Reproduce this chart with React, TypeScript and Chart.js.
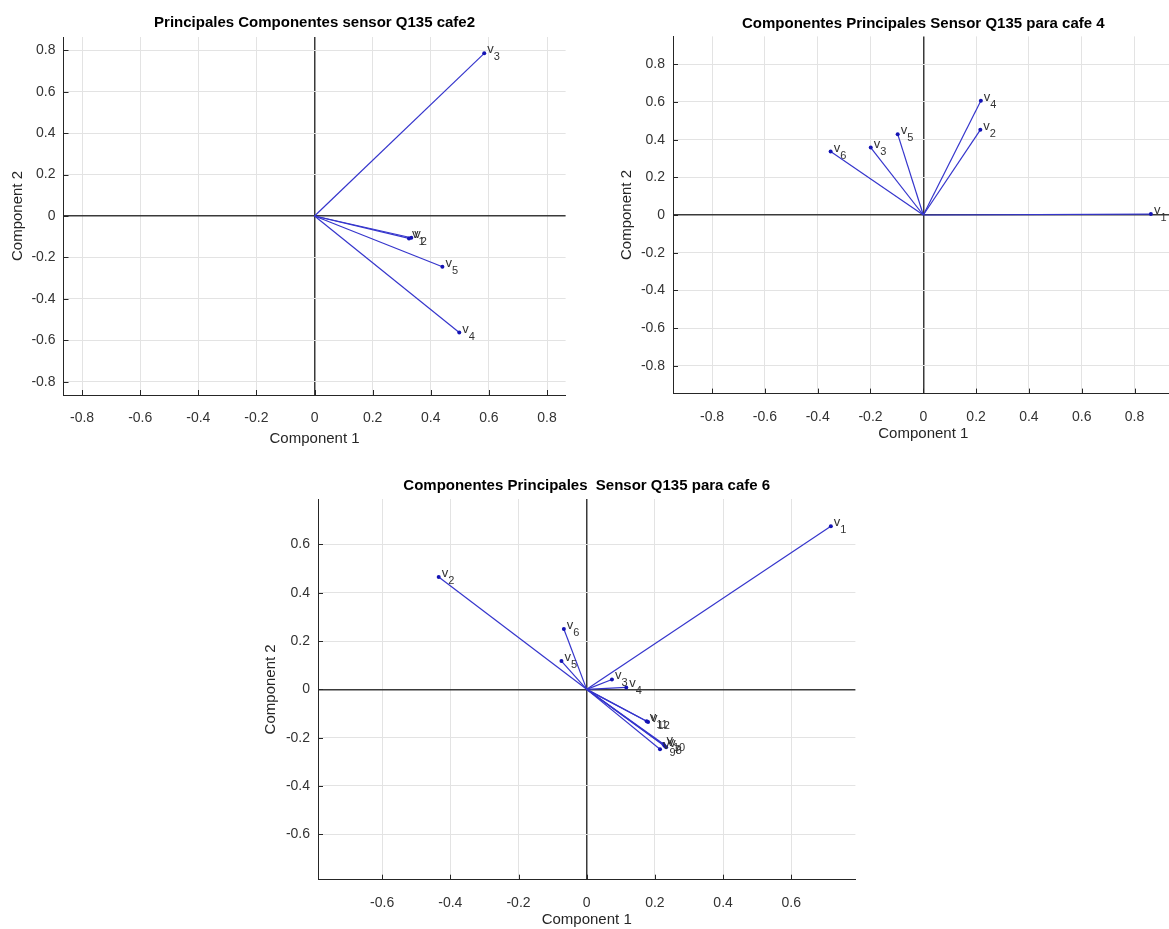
import React, { useEffect, useRef } from "react";
import { Chart, registerables } from "chart.js";

Chart.register(...registerables);

const FONT = '"Liberation Sans", Arial, Helvetica, sans-serif';
Chart.defaults.font.family = FONT;

// ---------- Panel 1: cafe2 ----------
const p1Title = "Principales Componentes sensor Q135 cafe2";
const p1Vars = ["1", "2", "3", "4", "5"];
const p1X = [0.325, 0.333, 0.584, 0.498, 0.44];
const p1Y = [-0.108, -0.105, 0.785, -0.5625, -0.245];
const p1Ticks = [-0.8, -0.6, -0.4, -0.2, 0, 0.2, 0.4, 0.6, 0.8];
const p1Limit = 0.864;

// ---------- Panel 2: cafe 4 ----------
const p2Title = "Componentes Principales Sensor Q135 para cafe 4";
const p2Vars = ["1", "2", "3", "4", "5", "6"];
const p2X = [0.862, 0.216, -0.199, 0.218, -0.097, -0.351];
const p2Y = [0.005, 0.452, 0.358, 0.606, 0.429, 0.337];
const p2Ticks = [-0.8, -0.6, -0.4, -0.2, 0, 0.2, 0.4, 0.6, 0.8];
const p2Limit = 0.948;

// ---------- Panel 3: cafe 6 ----------
const p3Title = "Componentes Principales  Sensor Q135 para cafe 6";
const p3Vars = ["1", "2", "3", "4", "5", "6", "7", "8", "9", "10", "11", "12"];
const p3X = [0.716, -0.434, 0.074, 0.116, -0.074, -0.067, 0.228, 0.233, 0.215, 0.225, 0.176, 0.18];
const p3Y = [0.675, 0.465, 0.041, 0.008, 0.117, 0.25, -0.233, -0.24, -0.248, -0.226, -0.132, -0.135];
const p3Ticks = [-0.6, -0.4, -0.2, 0, 0.2, 0.4, 0.6];
const p3Limit = 0.788;

const xAxisTitle = "Component 1";
const yAxisTitle = "Component 2";

const LINE_COLOR = "#3535cc";
const POINT_COLOR = "#1414b4";
const AXIS_COLOR = "#262626";
const GRID_COLOR = "#e3e3e3";

type Geom = {
  cx: number; cy: number; cw: number; ch: number;
  L: number; T: number; R: number; B: number;
  xTitleY: number; yTitleX: number; titleGap: number;
};

type PanelProps = {
  title: string;
  vars: string[];
  xs: number[];
  ys: number[];
  ticks: number[];
  limit: number;
  geom: Geom;
};

function fmt(v: number) {
  const n = Math.round(v * 10) / 10;
  return n === 0 ? "0" : String(n);
}

function BiplotPanel({ title, vars, xs, ys, ticks, limit, geom }: PanelProps) {
  const ref = useRef<HTMLCanvasElement>(null);

  useEffect(() => {
    const g = geom;
    const l = g.L - g.cx, t = g.T - g.cy, r = g.R - g.cx, b = g.B - g.cy;
    const titleHalf = 15 * 1.2 / 2;
    const pl = g.yTitleX - g.cx - titleHalf;
    const pb = g.ch - (g.xTitleY - g.cy + titleHalf);
    const yWidth = l - pl;
    const xHeight = (g.ch - pb) - b;

    const datasets = xs.map((x, i) => ({
      label: "v" + vars[i],
      data: [{ x: 0, y: 0 }, { x, y: ys[i] }],
      showLine: true,
      borderColor: LINE_COLOR,
      borderWidth: 1.2,
      pointRadius: [0, 2],
      pointBackgroundColor: POINT_COLOR,
      pointBorderWidth: 0,
      fill: false,
    }));

    const decor = {
      id: "biplotDecor",
      afterDatasetsDraw(chart: any) {
        const ctx = chart.ctx;
        const ca = chart.chartArea;
        const xs_ = chart.scales.x;
        const ys_ = chart.scales.y;
        ctx.save();
        // inward tick marks
        ctx.strokeStyle = AXIS_COLOR;
        ctx.lineWidth = 1;
        ctx.beginPath();
        ticks.forEach((v) => {
          const px = Math.round(xs_.getPixelForValue(v)) + 0.5;
          ctx.moveTo(px, ca.bottom);
          ctx.lineTo(px, ca.bottom - 5);
          const py = Math.round(ys_.getPixelForValue(v)) + 0.5;
          ctx.moveTo(ca.left, py);
          ctx.lineTo(ca.left + 5, py);
        });
        ctx.stroke();
        // variable labels
        ctx.fillStyle = "#333";
        ctx.textAlign = "left";
        ctx.textBaseline = "alphabetic";
        chart.data.datasets.forEach((_: any, i: number) => {
          const pt = chart.getDatasetMeta(i).data[1];
          const x0 = pt.x + 3;
          const y0 = pt.y;
          ctx.font = "13px " + FONT;
          ctx.fillText("v", x0, y0);
          const w = ctx.measureText("v").width;
          ctx.font = "11px " + FONT;
          ctx.fillText(vars[i], x0 + w, y0 + 7);
        });
        // title
        ctx.fillStyle = "#000";
        ctx.font = "bold 15px " + FONT;
        ctx.textAlign = "center";
        ctx.textBaseline = "middle";
        ctx.fillText(title, (ca.left + ca.right) / 2, ca.top - g.titleGap);
        ctx.restore();
      },
    };

    const gridOpts = {
      drawTicks: false,
      color: (c: any) => (c.tick && c.tick.value === 0 ? "#3a3a3a" : GRID_COLOR),
      lineWidth: (c: any) => (c.tick && c.tick.value === 0 ? 1.5 : 1),
    };

    const chart = new Chart(ref.current as HTMLCanvasElement, {
      type: "scatter",
      data: { datasets: datasets as any },
      plugins: [decor as any],
      options: {
        animation: false,
        responsive: false,
        maintainAspectRatio: false,
        events: [],
        layout: { padding: { left: pl, top: t, right: g.cw - r, bottom: pb } },
        plugins: {
          legend: { display: false },
          tooltip: { enabled: false },
          title: { display: false },
        },
        scales: {
          x: {
            type: "linear",
            min: -limit,
            max: limit,
            afterBuildTicks: (s: any) => { s.ticks = ticks.map((v) => ({ value: v })); },
            afterFit: (s: any) => { s.height = xHeight; },
            ticks: { padding: 15, color: "#333", font: { size: 14 }, callback: (v: any) => fmt(Number(v)), maxRotation: 0, autoSkip: false },
            title: { display: true, text: xAxisTitle, color: AXIS_COLOR, font: { size: 15 }, padding: 0 },
            grid: gridOpts as any,
            border: { display: true, color: AXIS_COLOR, width: 1 },
          },
          y: {
            type: "linear",
            min: -limit,
            max: limit,
            afterBuildTicks: (s: any) => { s.ticks = ticks.map((v) => ({ value: v })); },
            afterFit: (s: any) => { s.width = yWidth; },
            ticks: { padding: 8, color: "#333", font: { size: 14 }, callback: (v: any) => fmt(Number(v)), autoSkip: false },
            title: { display: true, text: yAxisTitle, color: AXIS_COLOR, font: { size: 15 }, padding: 0 },
            grid: gridOpts as any,
            border: { display: true, color: AXIS_COLOR, width: 1 },
          },
        },
      } as any,
    });
    return () => chart.destroy();
  }, []);

  return (
    <canvas
      ref={ref}
      width={geom.cw}
      height={geom.ch}
      style={{ position: "absolute", left: geom.cx, top: geom.cy, width: geom.cw, height: geom.ch }}
    />
  );
}

const geom1: Geom = { cx: 0, cy: 0, cw: 600, ch: 460, L: 63.5, T: 37, R: 565.6, B: 395, xTitleY: 439, yTitleX: 18, titleGap: 14 };
const geom2: Geom = { cx: 600, cy: 0, cw: 600, ch: 460, L: 673, T: 36.4, R: 1173.6, B: 393.6, xTitleY: 434, yTitleX: 627, titleGap: 13 };
const geom3: Geom = { cx: 240, cy: 470, cw: 660, ch: 459, L: 318, T: 499, R: 855.4, B: 879.7, xTitleY: 920, yTitleX: 271, titleGap: 13 };

export default function App() {
  return (
    <div style={{ position: "fixed", left: 0, top: 0, width: 1169, height: 929, overflow: "hidden", background: "#fff" }}>
      <BiplotPanel title={p1Title} vars={p1Vars} xs={p1X} ys={p1Y} ticks={p1Ticks} limit={p1Limit} geom={geom1} />
      <BiplotPanel title={p2Title} vars={p2Vars} xs={p2X} ys={p2Y} ticks={p2Ticks} limit={p2Limit} geom={geom2} />
      <BiplotPanel title={p3Title} vars={p3Vars} xs={p3X} ys={p3Y} ticks={p3Ticks} limit={p3Limit} geom={geom3} />
    </div>
  );
}
